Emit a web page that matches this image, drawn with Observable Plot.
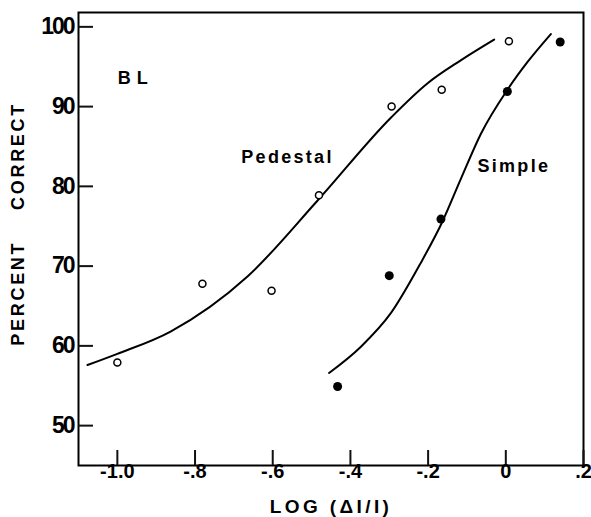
<!DOCTYPE html>
<html><head><meta charset="utf-8">
<script src="https://cdn.jsdelivr.net/npm/d3@7"></script>
<script src="https://cdn.jsdelivr.net/npm/@observablehq/plot@0.6"></script>
<style>
body{margin:0;background:#fff;}
</style></head><body><div id="chart"></div>
<script>
// Observed points
const pedestalX = [-1.0, -0.781, -0.603, -0.481, -0.294, -0.165, 0.008];
const pedestalY = [57.9, 67.8, 66.9, 78.9, 90.0, 92.1, 98.2];
const simpleX = [-0.433, -0.30, -0.167, 0.004, 0.14];
const simpleY = [54.9, 68.8, 75.9, 91.9, 98.1];

// Hand-fitted curves
const pedestalCurveX = [-1.077, -1.0, -0.863, -0.665, -0.485, -0.294, -0.202, -0.116, -0.03];
const pedestalCurveY = [57.6, 59.0, 61.8, 68.7, 78.2, 88.7, 92.9, 95.8, 98.4];
const simpleCurveX = [-0.455, -0.373, -0.296, -0.219, -0.163, -0.116, -0.064, 0.004, 0.056, 0.116];
const simpleCurveY = [56.6, 59.9, 64.1, 70.4, 75.6, 80.9, 86.6, 92.1, 95.6, 99.1];

// Axes
const xTicks = [-1.0, -0.8, -0.6, -0.4, -0.2, 0, 0.2];
const xTickLabels = ["-1.0", "-.8", "-.6", "-.4", "-.2", "0", ".2"];
const yTicks = [50, 60, 70, 80, 90, 100];
const xDomain = [-1.1, 0.2];
const yDomain = [45, 101.8];

// Annotations
const labelTexts = ["BL", "Pedestal", "Simple"];
const labelX = [-0.999, -0.681, -0.073];
const labelY = [93.6, 83.7, 82.5];
const xAxisTitle = "LOG (ΔI/I)";
const yAxisTitle = "PERCENT\u00a0\u00a0\u00a0\u00a0CORRECT";
const yAxisTitleAt = 75.3;

const pedestal = pedestalX.map((x, i) => ({x, y: pedestalY[i]}));
const simple = simpleX.map((x, i) => ({x, y: simpleY[i]}));
const pedCurve = pedestalCurveX.map((x, i) => ({x, y: pedestalCurveY[i]}));
const simCurve = simpleCurveX.map((x, i) => ({x, y: simpleCurveY[i]}));
const labels = labelTexts.map((t, i) => ({t, x: labelX[i], y: labelY[i]}));

const W = 591, H = 517, mL = 78, mR = 8, mT = 12, mB = 52, tick = 15;

const plot = Plot.plot({
  width: W, height: H,
  marginLeft: mL, marginRight: mR, marginTop: mT, marginBottom: mB,
  style: {fontFamily: "'Liberation Sans', Arial, sans-serif", color: "#000", background: "#fff"},
  x: {domain: xDomain},
  y: {domain: yDomain},
  marks: [
    Plot.frame({stroke: "#000", strokeWidth: 2}),
    Plot.axisX({ticks: xTicks, tickSize: -tick, tickPadding: tick - 2, strokeWidth: 2, stroke: "#111",
      tickFormat: d => xTickLabels[xTicks.indexOf(d)], label: null, fontSize: 20, fontWeight: "bold"}),
    Plot.axisY({ticks: yTicks, tickSize: -tick, tickPadding: tick + 5, strokeWidth: 2, stroke: "#111",
      label: null, fontSize: 23, fontWeight: "bold"}),
    Plot.line(pedCurve, {x: "x", y: "y", curve: "monotone-x", stroke: "#000", strokeWidth: 2}),
    Plot.line(simCurve, {x: "x", y: "y", curve: "monotone-x", stroke: "#000", strokeWidth: 2}),
    Plot.dot(pedestal, {x: "x", y: "y", r: 3.5, stroke: "#000", fill: "#fff", strokeWidth: 1.5}),
    Plot.dot(simple, {x: "x", y: "y", r: 4.5, fill: "#000", stroke: "none"}),
    Plot.text(labels, {x: "x", y: "y", text: "t", textAnchor: "start", fontSize: 18, fontWeight: "bold", fill: "#000"}),
    Plot.text([xAxisTitle], {frameAnchor: "bottom", dy: 41, text: d => d, textAnchor: "middle", fontSize: 19, fontWeight: "bold", fill: "#000", lineAnchor: "middle"}),
    Plot.text([yAxisTitle], {frameAnchor: "left", y: () => yAxisTitleAt, dx: -60, rotate: -90, textAnchor: "middle", text: d => d, fontSize: 18, fontWeight: "bold", fill: "#000", lineAnchor: "middle"})
  ]
});

const spacing = {"BL": 6, "Pedestal": 2.3, "Simple": 2.3};
spacing[xAxisTitle] = 3.4;
spacing[yAxisTitle] = 2.7;
d3.select(plot).selectAll("text").each(function() {
  const t = this.textContent;
  if (Object.prototype.hasOwnProperty.call(spacing, t)) this.style.letterSpacing = spacing[t] + "px";
  else if (yTicks.map(String).includes(t)) this.style.letterSpacing = "-2px";
});
document.getElementById("chart").appendChild(plot);
</script>
</body></html>
